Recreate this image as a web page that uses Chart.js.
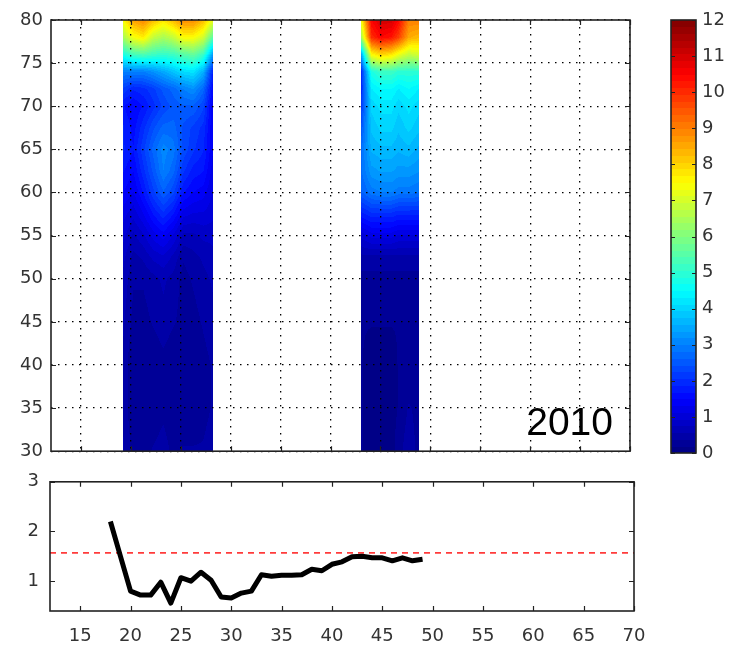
<!DOCTYPE html>
<html>
<head>
<meta charset="utf-8">
<script src="https://cdn.jsdelivr.net/npm/chart.js@4.4.0/dist/chart.umd.min.js"></script>
<style>
  html, body { margin: 0; padding: 0; background: #fff; }
  body { width: 730px; height: 650px; position: relative; overflow: hidden; }
  canvas { position: absolute; }
</style>
</head>
<body>
<canvas id="heat" width="650" height="470" style="left:0;top:0"></canvas>
<canvas id="cbar" width="90" height="470" style="left:640px;top:0"></canvas>
<canvas id="ratio" width="730" height="190" style="left:0;top:460px"></canvas>
<script>
// axes
const xMin = 12, xMax = 70;
const xTicks = [15, 20, 25, 30, 35, 40, 45, 50, 55, 60, 65, 70];
const depthMin = 30, depthMax = 80;
const depthTicks = [30, 35, 40, 45, 50, 55, 60, 65, 70, 75, 80];
const cMin = 0, cMax = 12;
const cbarTicks = [0, 1, 2, 3, 4, 5, 6, 7, 8, 9, 10, 11, 12];
const yearLabel = '2010';

// heat map rows (depth) shared by both bands
const depthRows = [80, 78, 76, 74, 72, 70, 67.5, 65, 62.5, 60, 57.5, 55, 52.5, 50, 45, 40, 35, 30];

const band1X = [19.25, 20.25, 21.25, 22.25, 23.25, 24.25, 25.25, 26.25, 27.25, 28.25];
const band1Values = [
  [7.5, 8.6, 8.9, 8.3, 7.8, 8.3, 8.9, 8.9, 8.3, 7.2],
  [6.5, 7.4, 7.7, 6.8, 6.5, 6.8, 7.5, 7.5, 7.0, 5.5],
  [4.8, 5.3, 5.4, 5.2, 5.1, 5.2, 5.5, 5.7, 5.2, 3.3],
  [3.0, 3.0, 3.0, 3.2, 3.5, 3.8, 4.1, 4.2, 3.6, 1.8],
  [2.2, 1.9, 2.0, 2.2, 2.5, 2.7, 3.0, 3.2, 2.7, 1.5],
  [1.7, 1.5, 1.7, 2.0, 2.3, 2.5, 2.6, 2.6, 2.3, 1.3],
  [1.9, 1.6, 2.0, 2.4, 2.7, 2.7, 2.4, 2.2, 2.0, 1.3],
  [1.9, 1.7, 2.2, 2.7, 3.1, 2.9, 2.4, 2.1, 1.9, 1.3],
  [1.7, 1.5, 2.0, 2.5, 3.0, 2.7, 2.1, 1.8, 1.7, 1.2],
  [1.5, 1.3, 1.7, 2.2, 2.6, 2.3, 1.7, 1.5, 1.4, 1.1],
  [1.2, 1.0, 1.3, 1.7, 2.0, 1.7, 1.2, 1.1, 1.1, 1.0],
  [1.0, 0.7, 0.9, 1.2, 1.4, 1.1, 0.7, 0.7, 0.8, 0.8],
  [0.8, 0.5, 0.6, 0.8, 0.9, 0.7, 0.4, 0.5, 0.6, 0.7],
  [0.7, 0.4, 0.4, 0.5, 0.6, 0.5, 0.3, 0.4, 0.5, 0.6],
  [0.6, 0.3, 0.3, 0.4, 0.5, 0.4, 0.3, 0.3, 0.4, 0.5],
  [0.5, 0.2, 0.2, 0.2, 0.3, 0.2, 0.2, 0.2, 0.3, 0.4],
  [0.5, 0.2, 0.2, 0.2, 0.3, 0.2, 0.2, 0.2, 0.3, 0.4],
  [0.6, 0.3, 0.3, 0.4, 0.5, 0.3, 0.4, 0.4, 0.4, 0.5]
];

const band2X = [43.1, 44.1, 45.1, 46.1, 46.8, 47.85, 48.9];
const band2Values = [
  [7.5, 10.5, 11.0, 11.0, 10.5, 9.0, 9.0],
  [6.5, 10.0, 10.5, 10.3, 9.8, 8.5, 8.3],
  [3.5, 7.5, 8.0, 7.8, 7.3, 6.8, 7.0],
  [2.0, 4.8, 5.2, 5.2, 5.0, 5.0, 5.0],
  [2.0, 4.3, 4.5, 4.5, 4.3, 4.5, 4.3],
  [2.2, 4.0, 4.2, 4.2, 4.0, 4.2, 4.0],
  [2.5, 3.8, 4.0, 4.0, 3.8, 4.0, 3.8],
  [2.8, 3.6, 3.7, 3.7, 3.6, 3.7, 3.5],
  [2.8, 3.3, 3.4, 3.4, 3.3, 3.3, 3.2],
  [2.6, 2.9, 3.0, 3.0, 2.9, 2.9, 2.8],
  [1.8, 2.0, 2.0, 2.0, 1.9, 1.9, 1.9],
  [1.0, 1.2, 1.2, 1.2, 1.1, 1.1, 1.1],
  [0.5, 0.5, 0.5, 0.5, 0.5, 0.5, 0.5],
  [0.3, 0.3, 0.3, 0.3, 0.3, 0.3, 0.3],
  [0.2, 0.2, 0.2, 0.2, 0.2, 0.3, 0.3],
  [0.2, 0.1, 0.1, 0.1, 0.2, 0.2, 0.2],
  [0.2, 0.1, 0.1, 0.1, 0.2, 0.4, 0.3],
  [0.2, 0.1, 0.1, 0.1, 0.3, 0.5, 0.3]
];

// lower panel
const ratioX = [18, 19, 20, 21, 22, 23, 24, 25, 26, 27, 28, 29, 30, 31, 32, 33,
                34, 35, 36, 37, 38, 39, 40, 41, 42, 43, 44, 45, 46, 47, 48, 49];
const ratioValues = [2.2, 1.5, 0.8, 0.72, 0.72, 0.98, 0.56, 1.07, 1.0, 1.18, 1.02, 0.68, 0.66, 0.76, 0.8, 1.13,
                     1.1, 1.12, 1.12, 1.13, 1.24, 1.21, 1.34, 1.39, 1.49, 1.5, 1.47, 1.47, 1.41, 1.47, 1.41, 1.44];
const ratioRef = 1.57;
const ratioMin = 0.4, ratioMax = 3;
const ratioTicks = [1, 2, 3];

Chart.defaults.font.family = '"DejaVu Sans", sans-serif';
Chart.defaults.font.size = 18;
Chart.defaults.color = '#333';

const clamp = (v, a, b) => Math.min(b, Math.max(a, v));

// matlab style jet, 64 levels
function jet(v) {
  const t = clamp((v - cMin) / (cMax - cMin), 0, 1);
  const q = Math.min(63, Math.floor(t * 64));
  const tq = (q + 0.5) / 64;
  const c = k => Math.round(255 * clamp(1.5 - Math.abs(4 * tq - k), 0, 1));
  return [c(3), c(2), c(1)];
}

function sample(xs, vals, x, d) {
  let i = 0;
  while (i < xs.length - 2 && x > xs[i + 1]) i++;
  const fx = clamp((x - xs[i]) / (xs[i + 1] - xs[i]), 0, 1);
  let j = 0;
  while (j < depthRows.length - 2 && d < depthRows[j + 1]) j++;
  const fy = clamp((depthRows[j] - d) / (depthRows[j] - depthRows[j + 1]), 0, 1);
  const a = vals[j][i] * (1 - fx) + vals[j][i + 1] * fx;
  const b = vals[j + 1][i] * (1 - fx) + vals[j + 1][i + 1] * fx;
  return a * (1 - fy) + b * fy;
}

const setTicks = arr => s => { s.ticks = arr.map(v => ({ value: v })); };

const heatPlugin = {
  id: 'heat',
  beforeDraw(chart) {
    const { ctx, scales: { x, y } } = chart;
    [[band1X, band1Values], [band2X, band2Values]].forEach(([xs, vals]) => {
      const left = Math.round(x.getPixelForValue(xs[0]));
      const right = Math.round(x.getPixelForValue(xs[xs.length - 1]));
      const top = Math.round(y.getPixelForValue(depthRows[0]));
      const bottom = Math.round(y.getPixelForValue(depthRows[depthRows.length - 1]));
      const w = right - left, h = bottom - top;
      const off = document.createElement('canvas');
      off.width = w; off.height = h;
      const octx = off.getContext('2d');
      const img = octx.createImageData(w, h);
      for (let py = 0; py < h; py++) {
        const dv = y.getValueForPixel(top + py + 0.5);
        for (let px = 0; px < w; px++) {
          const xv = x.getValueForPixel(left + px + 0.5);
          const [r, g, b] = jet(sample(xs, vals, xv, dv));
          const k = (py * w + px) * 4;
          img.data[k] = r; img.data[k + 1] = g; img.data[k + 2] = b; img.data[k + 3] = 255;
        }
      }
      octx.putImageData(img, 0, 0);
      ctx.drawImage(off, left, top);
    });
  },
  afterDraw(chart) {
    const { ctx, chartArea: a } = chart;
    ctx.save();
    ctx.font = '39px "Liberation Sans", Arial, sans-serif';
    ctx.fillStyle = '#000';
    ctx.textAlign = 'right';
    ctx.textBaseline = 'alphabetic';
    ctx.fillText(yearLabel, a.right - 17, a.bottom - 16);
    ctx.restore();
  }
};

const cbarPlugin = {
  id: 'cbarFill',
  beforeDatasetsDraw(chart) {
    const { ctx, chartArea: a, scales: { y } } = chart;
    const levels = 64;
    for (let i = 0; i < levels; i++) {
      const v0 = cMin + (cMax - cMin) * i / levels;
      const v1 = cMin + (cMax - cMin) * (i + 1) / levels;
      const [r, g, b] = jet((v0 + v1) / 2);
      const y0 = y.getPixelForValue(v1), y1 = y.getPixelForValue(v0);
      ctx.fillStyle = `rgb(${r},${g},${b})`;
      ctx.fillRect(a.left, Math.floor(y0), a.width, Math.ceil(y1) - Math.floor(y0));
    }
  }
};

// box round the plot area plus inward tick marks
const framePlugin = {
  id: 'frame',
  afterDraw(chart, args, opts) {
    const { ctx, chartArea: a } = chart;
    const len = opts.len || 5;
    ctx.save();
    ctx.strokeStyle = '#222';
    ctx.lineWidth = 1.2;
    ctx.beginPath();
    if (opts.x) {
      chart.scales.x.ticks.forEach(t => {
        const p = Math.round(chart.scales.x.getPixelForValue(t.value)) + 0.5;
        ctx.moveTo(p, a.bottom); ctx.lineTo(p, a.bottom - len);
        ctx.moveTo(p, a.top); ctx.lineTo(p, a.top + len);
      });
    }
    if (opts.y) {
      chart.scales.y.ticks.forEach(t => {
        const p = Math.round(chart.scales.y.getPixelForValue(t.value)) + 0.5;
        ctx.moveTo(a.left, p); ctx.lineTo(a.left + len, p);
        ctx.moveTo(a.right, p); ctx.lineTo(a.right - len, p);
      });
    }
    ctx.stroke();
    ctx.lineWidth = 1.6;
    ctx.strokeRect(a.left, a.top, a.right - a.left, a.bottom - a.top);
    ctx.restore();
  }
};

const dotted = {
  grid: { color: '#000', lineWidth: 1.3, drawTicks: false },
  border: { display: false, dash: [1.5, 5.5] }
};
const plain = {
  grid: { display: false, drawTicks: false, tickLength: 0 },
  border: { display: false }
};

new Chart(document.getElementById('heat'), {
  type: 'scatter',
  data: { datasets: [] },
  plugins: [heatPlugin, framePlugin],
  options: {
    responsive: false,
    animation: false,
    layout: { padding: { top: 20, right: 20, left: 0, bottom: 0 } },
    plugins: { legend: { display: false }, tooltip: { enabled: false }, frame: { x: true, y: true, len: 5 } },
    scales: {
      x: {
        type: 'linear', min: xMin, max: xMax,
        afterBuildTicks: setTicks(xTicks),
        afterFit: s => { s.height = 17; },
        ticks: { display: false },
        ...dotted
      },
      y: {
        type: 'linear', min: depthMin, max: depthMax,
        afterBuildTicks: setTicks(depthTicks),
        afterFit: s => { s.width = 51; },
        ticks: { padding: 8, callback: v => String(v) },
        ...dotted
      }
    }
  }
});

new Chart(document.getElementById('cbar'), {
  type: 'scatter',
  data: { datasets: [] },
  plugins: [cbarPlugin, framePlugin],
  options: {
    responsive: false,
    animation: false,
    layout: { padding: { top: 20, left: 31, bottom: 17, right: 0 } },
    plugins: { legend: { display: false }, tooltip: { enabled: false }, frame: { y: true, len: 4 } },
    scales: {
      x: { type: 'linear', min: 0, max: 1, display: false },
      y: {
        type: 'linear', position: 'right', min: cMin, max: cMax,
        afterBuildTicks: setTicks(cbarTicks),
        afterFit: s => { s.width = 34; },
        ticks: { padding: 6, callback: v => String(v) },
        ...plain
      }
    }
  }
});

new Chart(document.getElementById('ratio'), {
  type: 'line',
  data: {
    datasets: [
      {
        data: ratioX.map((x, i) => ({ x, y: ratioValues[i] })),
        borderColor: '#000',
        borderWidth: 5,
        borderJoinStyle: 'round',
        pointRadius: 0,
        tension: 0
      },
      {
        data: [{ x: xMin, y: ratioRef }, { x: xMax, y: ratioRef }],
        borderColor: '#ff3b3b',
        borderWidth: 1.8,
        borderDash: [6, 5],
        pointRadius: 0
      }
    ]
  },
  plugins: [framePlugin],
  options: {
    responsive: false,
    animation: false,
    layout: { padding: { top: 14, right: 96, left: 0, bottom: 0 } },
    plugins: { legend: { display: false }, tooltip: { enabled: false }, frame: { x: true, y: true, len: 5 } },
    scales: {
      x: {
        type: 'linear', min: xMin, max: xMax,
        afterBuildTicks: setTicks(xTicks),
        afterFit: s => { s.height = 39; },
        ticks: { padding: 15, callback: v => String(v) },
        ...plain
      },
      y: {
        type: 'linear', min: ratioMin, max: ratioMax,
        afterBuildTicks: setTicks(ratioTicks),
        afterFit: s => { s.width = 50; },
        ticks: { padding: 11, callback: v => String(v) },
        ...plain
      }
    }
  }
});
</script>
</body>
</html>
